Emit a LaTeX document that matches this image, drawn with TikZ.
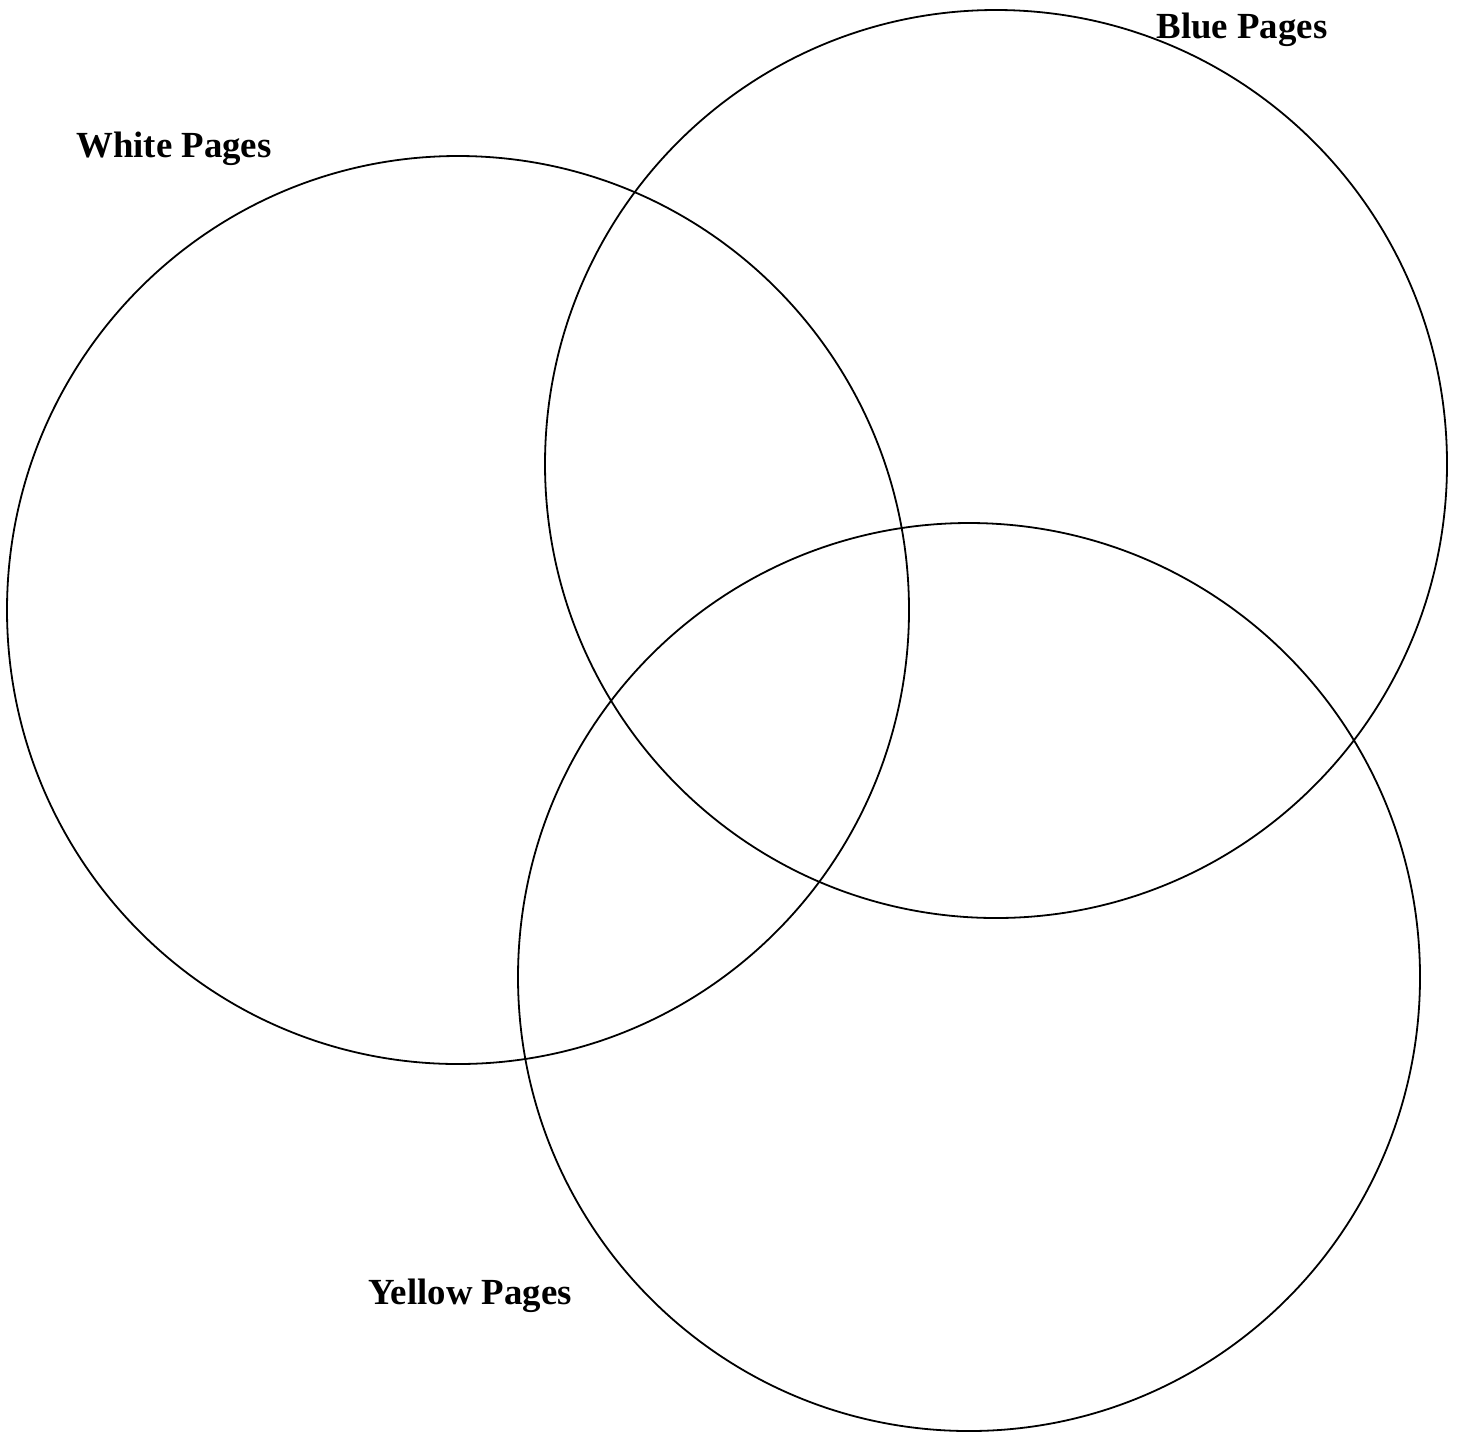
\documentclass[tikz,border=0pt]{standalone}
\usepackage{fontspec}
\setmainfont{Liberation Serif}
\usepackage{tikz}
\tikzset{
  venncircle/.style={draw=black,line width=0.9pt},
  setlabel/.style={font=\bfseries\fontsize{18.4}{22}\selectfont,inner sep=0pt,anchor=base}
}

\begin{document}
\begin{tikzpicture}[x=0.5pt,y=-0.5pt]
  \useasboundingbox (0,0) rectangle (1460,1431);
  % circle centres
  \coordinate (white) at (458,610);
  \coordinate (blue) at (996,464);
  \coordinate (yellow) at (969,977);
  \draw[venncircle] (white) ellipse[x radius=451,y radius=454];
  \draw[venncircle] (blue) ellipse[x radius=451,y radius=454];
  \draw[venncircle] (yellow) ellipse[x radius=451,y radius=454];
  % labels
  \node[setlabel] (whitelabel) at (174,157) {White Pages};
  \node[setlabel] (bluelabel) at (1242,38) {Blue Pages};
  \node[setlabel] (yellowlabel) at (470,1304) {Yellow Pages};
\end{tikzpicture}
\end{document}
